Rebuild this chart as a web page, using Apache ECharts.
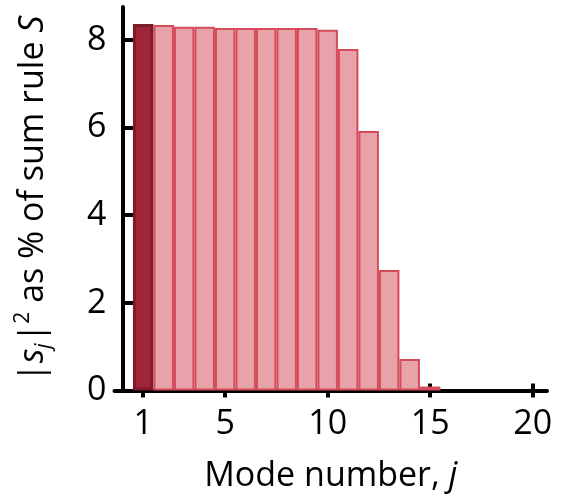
<!DOCTYPE html>
<html>
<head>
<meta charset="utf-8">
<script src="https://cdn.jsdelivr.net/npm/echarts@6/dist/echarts.min.js"></script>
<style>
  html, body { margin: 0; padding: 0; background: #fff; }
  #chart { width: 564px; height: 502px; }
</style>
</head>
<body>
<div id="chart"></div>
<script>
// mode numbers and share of the sum rule (%)
var modes = [1, 2, 3, 4, 5, 6, 7, 8, 9, 10, 11, 12, 13, 14, 15];
var shares = [8.36, 8.34, 8.30, 8.30, 8.27, 8.27, 8.27, 8.27, 8.27, 8.23, 7.79, 5.92, 2.75, 0.72, 0.09];
var xTicks = [1, 5, 10, 15, 20];
var yTicks = [0, 2, 4, 6, 8];

var chart = echarts.init(document.getElementById('chart'));
var font = 'Open Sans';
var fs = 34;

var barData = modes.map(function(m, i) {
    var item = { value: [m, shares[i]] };
    if (i === 0) {
        // first mode highlighted
        item.itemStyle = { color: '#a02539', borderColor: '#7a1c29', borderWidth: 3 };
    }
    return item;
});

var option = {
    animation: false,
    grid: { left: 114.5, right: 17, top: 7, bottom: 111.5, outerBoundsMode: 'none', containLabel: false },
    xAxis: [{
        type: 'value',
        min: -0.4,
        max: 20.7,
        splitLine: { show: false },
        axisLine: { lineStyle: { color: '#000', width: 4 } },
        axisTick: { customValues: xTicks, length: 7, lineStyle: { color: '#000', width: 4 } },
        axisLabel: { customValues: xTicks, margin: 17, color: '#000', fontSize: fs, fontFamily: font },
        name: 'Mode number, {i|j}',
        nameLocation: 'middle',
        nameGap: 69,
        nameTextStyle: {
            color: '#000', fontSize: fs, fontFamily: font,
            rich: { i: { fontStyle: 'italic', fontSize: fs, fontFamily: font, color: '#000' } }
        }
    }, {
        // inner half of the x ticks
        type: 'value',
        position: 'bottom',
        min: -0.4,
        max: 20.7,
        splitLine: { show: false },
        axisLine: { show: false },
        axisTick: { inside: true, customValues: xTicks, length: 7, lineStyle: { color: '#000', width: 4 } },
        axisLabel: { show: false }
    }],
    yAxis: {
        type: 'value',
        min: 0,
        max: 8.75,
        splitLine: { show: false },
        axisLine: { lineStyle: { color: '#000', width: 4 } },
        axisTick: { inside: true, customValues: yTicks, length: 15, lineStyle: { color: '#000', width: 4 } },
        axisLabel: { customValues: yTicks, margin: 8, color: '#000', fontSize: fs, fontFamily: font },
        name: '{n||}{i|s}{sub|j}{n||}{sup|2}{n| as % of sum rule }{i|S}',
        nameLocation: 'middle',
        nameGap: 60,
        nameTextStyle: {
            color: '#000', fontSize: fs, fontFamily: font,
            rich: {
                n: { fontSize: fs, fontFamily: font, color: '#000', lineHeight: 42 },
                i: { fontSize: fs, fontStyle: 'italic', fontFamily: font, color: '#000', lineHeight: 42 },
                sub: { fontSize: 21, fontStyle: 'italic', fontFamily: font, color: '#000', verticalAlign: 'bottom', lineHeight: 42, padding: [0, 1, 0, 0] },
                sup: { fontSize: 21, fontFamily: font, color: '#000', verticalAlign: 'top', lineHeight: 42 }
            }
        }
    },
    series: [{
        type: 'bar',
        xAxisIndex: 0,
        barWidth: 20.5,
        itemStyle: { color: '#e8a2a9', borderColor: '#d54b5a', borderWidth: 2 },
        data: barData
    }]
};
chart.setOption(option);
</script>
</body>
</html>
